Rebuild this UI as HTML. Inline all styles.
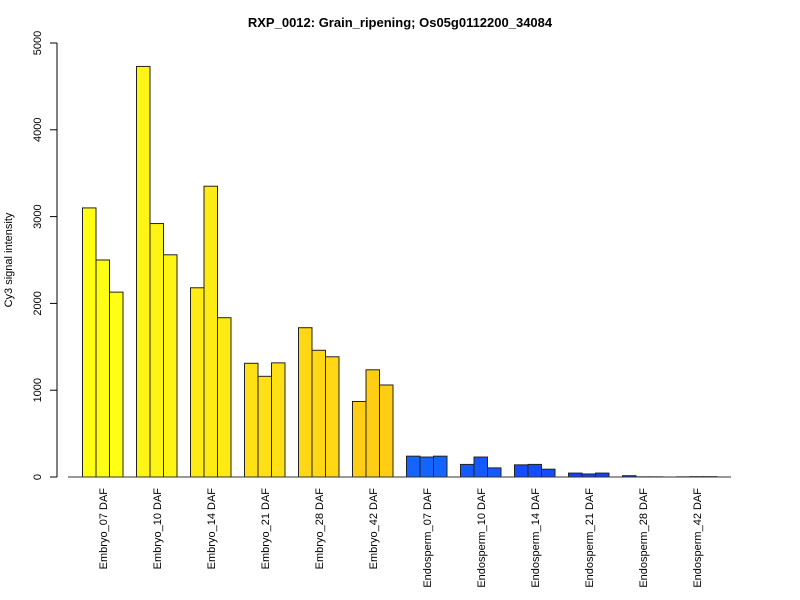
<!DOCTYPE html>
<html><head><meta charset="utf-8"><style>body{margin:0;background:#fff}svg{display:block;font-family:"Liberation Sans",Arial,sans-serif}</style></head>
<body>
<svg id="chart" width="800" height="600">
<text x="400" y="27" text-anchor="middle" font-size="13" font-weight="bold">RXP_0012: Grain_ripening; Os05g0112200_34084</text>
<text transform="translate(12,260) rotate(-90)" text-anchor="middle" font-size="11">Cy3 signal intensity</text>
<g id="yaxis"></g>
<g id="bars"></g>
<g id="xlabels"></g>
</svg>
<script>
const categories=["Embryo_07 DAF","Embryo_10 DAF","Embryo_14 DAF","Embryo_21 DAF","Embryo_28 DAF","Embryo_42 DAF","Endosperm_07 DAF","Endosperm_10 DAF","Endosperm_14 DAF","Endosperm_21 DAF","Endosperm_28 DAF","Endosperm_42 DAF"];
const rep1=[3100,4730,2180,1310,1720,870,240,145,140,45,15,2];
const rep2=[2500,2920,3350,1160,1460,1235,230,230,145,35,2,4];
const rep3=[2130,2560,1835,1315,1385,1060,240,105,90,45,2,4];
const groupColors=["#FFFF14","#FFF514","#FFEB14","#FFE014","#FFD714","#FFCE14","#1464FF","#1458FF","#144CFF","#1440FF","#1434FF","#1428FF"];
const yTicks=[0,1000,2000,3000,4000,5000];
const NS="http://www.w3.org/2000/svg";
const y0=477,yMax=5000,yTop=43;
const y=v=>y0-(v/yMax)*(y0-yTop);
const barW=13.5,groupStep=54,x0=82.5;
const x=(g,r)=>x0+g*groupStep+r*barW;
function mk(tag,attrs,parent){const e=document.createElementNS(NS,tag);for(const k in attrs)e.setAttribute(k,attrs[k]);parent.appendChild(e);return e;}
const ya=document.getElementById('yaxis');
let l=mk('line',{x1:57,x2:57,y1:y(0),y2:y(5000),stroke:'#000'},ya);


yTicks.forEach(t=>{
 const tk=mk('line',{x1:50,x2:57,y1:y(t),y2:y(t),stroke:'#000'},ya);
 
 
 const tx=mk('text',{transform:`translate(41,${y(t)}) rotate(-90)`,'text-anchor':'middle','font-size':11},ya);
 tx.textContent=t;
 
 
});
const bars=document.getElementById('bars');
const series=[rep1,rep2,rep3];
categories.forEach((c,g)=>{
 series.forEach((s,r)=>{
  const v=s[g];
  const b=mk('rect',{x:x(g,r),y:y(v),width:barW,height:y0-y(v),fill:groupColors[g],stroke:'#222','stroke-width':1},bars);
  
  
 });
});
const xa=mk('line',{x1:68,x2:731,y1:y0,y2:y0,stroke:'#333'},bars);


const xl=document.getElementById('xlabels');
categories.forEach((c,g)=>{
 const cx=x(g,1.5)+4;
 const t=mk('text',{transform:`translate(${cx},488) rotate(-90)`,'text-anchor':'end','font-size':11},xl);
 t.textContent=c;
 
 
});
</script>
</body></html>
